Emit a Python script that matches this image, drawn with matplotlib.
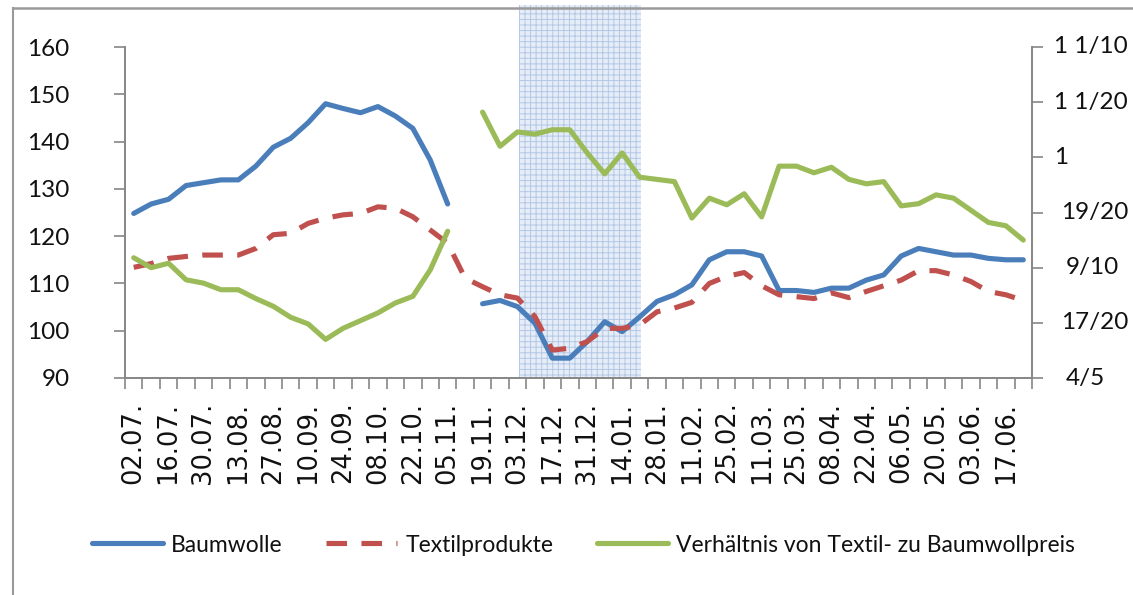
import numpy as np
import matplotlib
matplotlib.use("Agg")
import matplotlib.pyplot as plt
from matplotlib.lines import Line2D
import matplotlib.transforms as mtransforms

weeks = ["02.07.", "09.07.", "16.07.", "23.07.", "30.07.", "06.08.", "13.08.", "20.08.",
         "27.08.", "03.09.", "10.09.", "17.09.", "24.09.", "01.10.", "08.10.", "15.10.",
         "22.10.", "29.10.", "05.11.", "12.11.", "19.11.", "26.11.", "03.12.", "10.12.",
         "17.12.", "24.12.", "31.12.", "07.01.", "14.01.", "21.01.", "28.01.", "04.02.",
         "11.02.", "18.02.", "25.02.", "04.03.", "11.03.", "18.03.", "25.03.", "01.04.",
         "08.04.", "15.04.", "22.04.", "29.04.", "06.05.", "13.05.", "20.05.", "27.05.",
         "03.06.", "10.06.", "17.06.", "24.06."]

nan = np.nan
baumwolle = [124.8, 126.8, 127.8, 130.7, 131.3, 131.9, 131.9, 134.8, 138.8, 140.7,
             144.0, 148.0, 147.0, 146.1, 147.4, 145.4, 142.8, 136.1, 126.8, nan,
             105.7, 106.4, 105.1, 101.6, 94.2, 94.2, 97.7, 101.9, 99.8, 102.9,
             106.2, 107.6, 109.7, 115.0, 116.7, 116.7, 115.8, 108.5, 108.5, 108.1,
             109.0, 109.0, 110.7, 111.8, 115.8, 117.4, 116.7, 116.0, 116.0, 115.3,
             115.0, 115.0]

textil = [113.4, 114.2, 115.3, 115.7, 116.0, 116.0, 116.0, 117.4, 120.3, 120.6,
          122.7, 123.8, 124.5, 124.8, 126.2, 125.9, 124.1, 121.3, 118.5, 111.1,
          109.3, 107.6, 106.9, 103.0, 95.9, 96.3, 97.7, 100.5, 100.5, 101.2,
          104.0, 104.8, 106.0, 110.0, 111.5, 112.3, 109.5, 107.6, 107.2, 106.8,
          108.0, 107.0, 108.3, 109.5, 110.7, 112.7, 112.7, 111.8, 110.4, 108.3,
          107.6, 106.4]

verhaeltnis = [0.909, 0.900, 0.904, 0.889, 0.886, 0.880, 0.880, 0.872, 0.865, 0.855,
               0.849, 0.835, 0.845, 0.852, 0.859, 0.868, 0.874, 0.898, 0.933, nan,
               1.041, 1.010, 1.023, 1.021, 1.025, 1.025, 1.004, 0.985, 1.004, 0.982,
               0.980, 0.978, 0.945, 0.963, 0.957, 0.967, 0.946, 0.992, 0.992, 0.986,
               0.991, 0.980, 0.976, 0.978, 0.956, 0.958, 0.966, 0.963, 0.952, 0.941,
               0.938, 0.925]

left_ticks = [90, 100, 110, 120, 130, 140, 150, 160]
right_ticks = [0.80, 0.85, 0.90, 0.95, 1.00, 1.05, 1.10]
right_labels = ["4/5", "17/20", "9/10", "19/20", "1", "1 1/20", "1 1/10"]
right_label_offsets_px = [34, 29, 34, 29, 22, 22, 22]

shade_from, shade_to = 22.1, 29.1

labels = ["Baumwolle", "Textilprodukte", "Verhältnis von Textil- zu Baumwollpreis"]
c_blue, c_red, c_green = "#4a7ebb", "#c0504d", "#9bbb59"

narrow = ["Lato", "DejaVu Sans"]

W, H = 1133, 595
fig = plt.figure(figsize=(W / 100, H / 100), dpi=100)
ax_l, ax_r, ax_t, ax_b = 125, 1032, 47, 378
ax = fig.add_axes([ax_l / W, 1 - ax_b / H, (ax_r - ax_l) / W, (ax_b - ax_t) / H])
ax2 = ax.twinx()

x = np.arange(len(weeks))

# shaded period
ymax_ext = (ax_b - 5) / (ax_b - ax_t)
plt.rcParams['hatch.linewidth'] = 0.7
band = ax.axvspan(shade_from, shade_to, ymin=0, ymax=ymax_ext, facecolor="#e6edf7",
                  edgecolor="#b3c8e6", hatch="+++", linewidth=0, clip_on=False, zorder=0)

l1, = ax.plot(x, baumwolle, color=c_blue, lw=3.7, solid_capstyle="round",
              solid_joinstyle="round", zorder=3)
l2, = ax.plot(x, textil, color=c_red, lw=3.7, dashes=(4, 2.8), dash_capstyle="butt", zorder=3)
l3, = ax2.plot(x, verhaeltnis, color=c_green, lw=3.7, solid_capstyle="round",
               solid_joinstyle="round", zorder=3)

ax.set_xlim(-0.5, len(weeks) - 0.5)
ax.set_ylim(90, 160)
ax2.set_ylim(0.8, 1.1)

spine_c = "#868686"
for a in (ax, ax2):
    a.spines["top"].set_visible(False)
    for s in ("left", "right", "bottom"):
        a.spines[s].set_color(spine_c)
        a.spines[s].set_linewidth(1.2)

ax.set_yticks(left_ticks)
ax.set_yticklabels([str(v) for v in left_ticks], family=narrow, fontsize=17.5, color="#111111")
ax.tick_params(axis="y", direction="out", length=8, width=1.2, color=spine_c, pad=32)

ax2.set_yticks(right_ticks)
ax2.set_yticklabels([""] * len(right_ticks))
ax2.tick_params(axis="y", direction="out", length=8, width=1.2, color=spine_c)
for v, lab, off in zip(right_ticks, right_labels, right_label_offsets_px):
    tr = mtransforms.blended_transform_factory(ax2.transAxes, ax2.transData)
    tr = tr + mtransforms.ScaledTranslation(off / 100, 0, fig.dpi_scale_trans)
    ax2.text(1.0, v, lab, transform=tr, ha="left", va="center", family=narrow,
             fontsize=17.5, color="#111111")

# x axis: labels every second week, ticks at every category boundary
ax.set_xticks(x[::2])
ax.set_xticklabels(weeks[::2], rotation=90, fontsize=18.5, family="DejaVu Sans",
                   va="top", ha="center", color="#111111")
ax.tick_params(axis="x", length=0, pad=17)
ax.set_xticks(np.arange(-0.5, len(weeks), 1.0), minor=True)
ax.tick_params(axis="x", which="minor", direction="out", length=8, width=1.2, color=spine_c)
ax2.tick_params(axis="x", which="both", length=0)

leg = fig.legend([l1, l2, l3], labels, loc="center", bbox_to_anchor=(0.515, 1 - 545 / H),
                 ncol=3, frameon=False, prop={"family": narrow, "size": 16.5},
                 handlelength=3.1, handletextpad=0.35, columnspacing=1.9)
for t in leg.get_texts():
    t.set_color("#111111")

# outer chart border (left and top)
bx, by = 13 / W, 1 - 7.5 / H
fig.add_artist(Line2D([bx, bx], [0, by], transform=fig.transFigure, color="#9a9a9a", lw=1.5))
fig.add_artist(Line2D([bx, 1], [by, by], transform=fig.transFigure, color="#9a9a9a", lw=1.8))

fig.savefig("out.png", dpi=100)
